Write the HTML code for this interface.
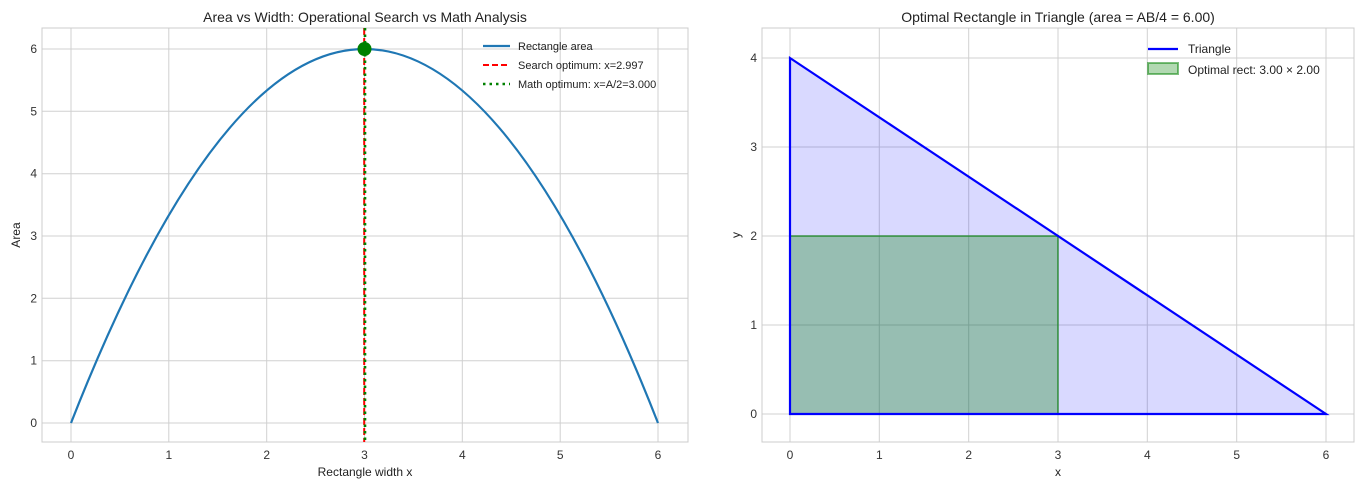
<!DOCTYPE html>
<html><head><meta charset="utf-8"><style>body{margin:0;background:#fff}svg{display:block;font-family:"Liberation Sans",sans-serif}</style></head><body>
<svg width="1362" height="490" viewBox="0 0 1362 490">
<defs><clipPath id="c1"><rect x="42" y="28" width="646" height="414"/></clipPath></defs>
<!-- Left -->
<g stroke="#d0d0d0" stroke-width="1">
<line x1="71" y1="28" x2="71" y2="442"/><line x1="168.8" y1="28" x2="168.8" y2="442"/><line x1="266.7" y1="28" x2="266.7" y2="442"/><line x1="364.5" y1="28" x2="364.5" y2="442"/><line x1="462.3" y1="28" x2="462.3" y2="442"/><line x1="560.2" y1="28" x2="560.2" y2="442"/><line x1="658" y1="28" x2="658" y2="442"/>
<line x1="42" y1="423" x2="688" y2="423"/><line x1="42" y1="360.7" x2="688" y2="360.7"/><line x1="42" y1="298.3" x2="688" y2="298.3"/><line x1="42" y1="236" x2="688" y2="236"/><line x1="42" y1="173.7" x2="688" y2="173.7"/><line x1="42" y1="111.3" x2="688" y2="111.3"/><line x1="42" y1="49" x2="688" y2="49"/>
</g>
<rect x="42" y="28" width="646" height="414" fill="none" stroke="#cccccc"/>
<g clip-path="url(#c1)">
<path d="M71,423 Q364.5,-325 658,423" fill="none" stroke="#1f77b4" stroke-width="2.2"/>
<line x1="364.2" y1="28" x2="364.2" y2="442" stroke="#ff0000" stroke-width="2" stroke-dasharray="7,3"/>
<line x1="365" y1="28" x2="365" y2="442" stroke="#008000" stroke-width="2.6" stroke-dasharray="2.5,4"/>
<circle cx="364.5" cy="49" r="7" fill="#008000"/>
</g>
<g font-size="12" fill="#333" text-anchor="middle">
<text x="71" y="459">0</text><text x="168.8" y="459">1</text><text x="266.7" y="459">2</text><text x="364.5" y="459">3</text><text x="462.3" y="459">4</text><text x="560.2" y="459">5</text><text x="658" y="459">6</text>
</g>
<g font-size="12" fill="#333" text-anchor="end">
<text x="37" y="427">0</text><text x="37" y="364.7">1</text><text x="37" y="302.3">2</text><text x="37" y="240">3</text><text x="37" y="177.7">4</text><text x="37" y="115.3">5</text><text x="37" y="53">6</text>
</g>
<text x="365" y="476" font-size="12" fill="#222" text-anchor="middle">Rectangle width x</text>
<text x="20" y="235" font-size="12" fill="#222" text-anchor="middle" transform="rotate(-90 20 235)">Area</text>
<text x="365" y="22" font-size="14" fill="#222" text-anchor="middle">Area vs Width: Operational Search vs Math Analysis</text>
<g font-size="11" fill="#222">
<line x1="483" y1="46" x2="510" y2="46" stroke="#1f77b4" stroke-width="2.2"/><text x="518" y="50">Rectangle area</text>
<line x1="483" y1="65" x2="510" y2="65" stroke="#ff0000" stroke-width="2" stroke-dasharray="6,3"/><text x="518" y="69">Search optimum: x=2.997</text>
<line x1="483" y1="84" x2="510" y2="84" stroke="#008000" stroke-width="2.6" stroke-dasharray="2.5,4"/><text x="518" y="88">Math optimum: x=A/2=3.000</text>
</g>
<!-- Right -->
<g stroke="#d0d0d0" stroke-width="1">
<line x1="790" y1="28" x2="790" y2="442"/><line x1="879.3" y1="28" x2="879.3" y2="442"/><line x1="968.7" y1="28" x2="968.7" y2="442"/><line x1="1058" y1="28" x2="1058" y2="442"/><line x1="1147.3" y1="28" x2="1147.3" y2="442"/><line x1="1236.7" y1="28" x2="1236.7" y2="442"/><line x1="1326" y1="28" x2="1326" y2="442"/>
<line x1="762" y1="414" x2="1354" y2="414"/><line x1="762" y1="325" x2="1354" y2="325"/><line x1="762" y1="236" x2="1354" y2="236"/><line x1="762" y1="147" x2="1354" y2="147"/><line x1="762" y1="58" x2="1354" y2="58"/>
</g>
<rect x="762" y="28" width="592" height="414" fill="none" stroke="#cccccc"/>
<polygon points="790,414 790,58 1326,414" fill="#0000ff" fill-opacity="0.15"/>
<rect x="790" y="236" width="268" height="178" fill="#008000" fill-opacity="0.3" stroke="#008000" stroke-opacity="0.5" stroke-width="2"/>
<polygon points="790,414 790,58 1326,414" fill="none" stroke="#0000ff" stroke-width="2.2"/>
<g font-size="12" fill="#333" text-anchor="middle">
<text x="790" y="459">0</text><text x="879.3" y="459">1</text><text x="968.7" y="459">2</text><text x="1058" y="459">3</text><text x="1147.3" y="459">4</text><text x="1236.7" y="459">5</text><text x="1326" y="459">6</text>
</g>
<g font-size="12" fill="#333" text-anchor="end">
<text x="757" y="418">0</text><text x="757" y="329">1</text><text x="757" y="240">2</text><text x="757" y="151">3</text><text x="757" y="62">4</text>
</g>
<text x="1058" y="476" font-size="12" fill="#222" text-anchor="middle">x</text>
<text x="740" y="235" font-size="12" fill="#222" text-anchor="middle" transform="rotate(-90 740 235)">y</text>
<text x="1058" y="22" font-size="14" fill="#222" text-anchor="middle">Optimal Rectangle in Triangle (area = AB/4 = 6.00)</text>
<g font-size="12" fill="#222">
<line x1="1148" y1="49" x2="1178" y2="49" stroke="#0000ff" stroke-width="2.2"/><text x="1188" y="53">Triangle</text>
<rect x="1148" y="63" width="30" height="11" fill="#008000" fill-opacity="0.3" stroke="#008000" stroke-opacity="0.5" stroke-width="2"/><text x="1188" y="74">Optimal rect: 3.00 × 2.00</text>
</g>
</svg>
</body></html>
